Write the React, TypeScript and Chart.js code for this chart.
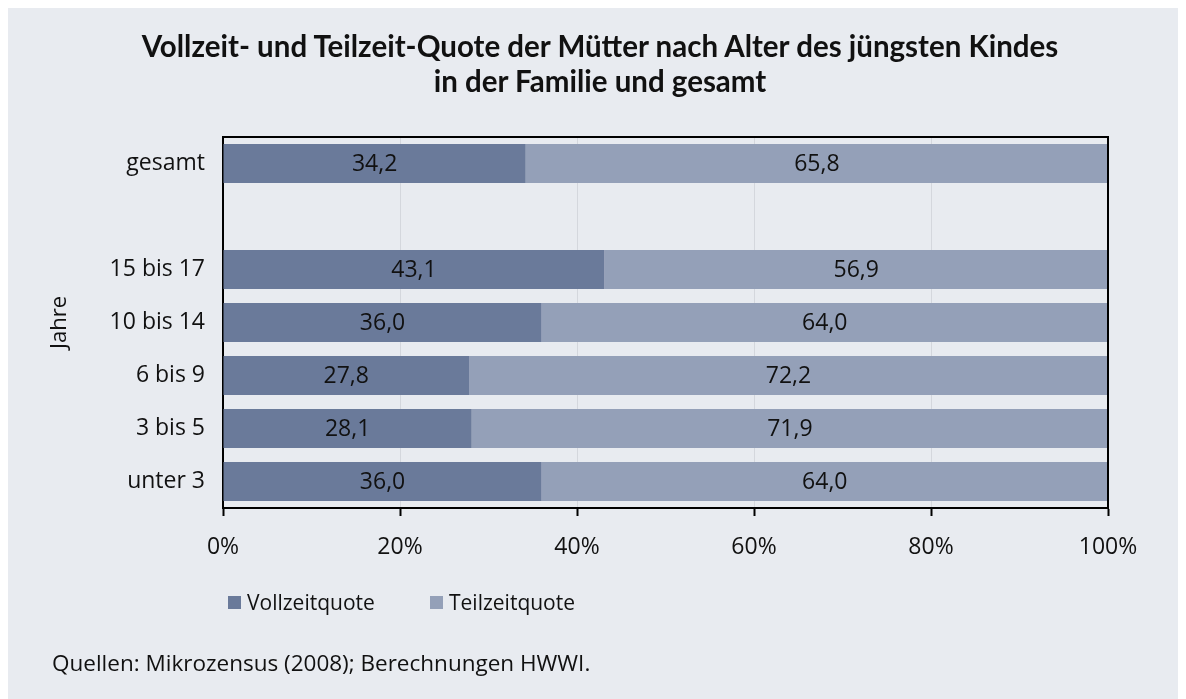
import React, { useEffect, useRef } from "react";
import { Chart, registerables } from "chart.js";

Chart.register(...registerables);

const categories = ["gesamt", "", "15 bis 17", "10 bis 14", "6 bis 9", "3 bis 5", "unter 3"];
const vollzeit = [34.2, null, 43.1, 36.0, 27.8, 28.1, 36.0];
const teilzeit = [65.8, null, 56.9, 64.0, 72.2, 71.9, 64.0];
const xTickValues = [0, 20, 40, 60, 80, 100];
const seriesNames = ["Vollzeitquote", "Teilzeitquote"];
const titleLines = [
  "Vollzeit- und Teilzeit-Quote der Mütter nach Alter des jüngsten Kindes",
  "in der Familie und gesamt",
];
const yAxisTitle = "Jahre";
const sourceText = "Quellen: Mikrozensus (2008); Berechnungen HWWI.";

const DARK = "#6a7a9a";
const LIGHT = "#94a0b8";
const BG = "#e8ebf0";
const LABEL_FONT = "'Open Sans', sans-serif";
const TITLE_FONT = "Lato, sans-serif";

const valueLabels = {
  id: "valueLabels",
  afterDatasetsDraw(chart: any) {
    const ctx = chart.ctx;
    ctx.save();
    ctx.font = `23px ${LABEL_FONT}`;
    ctx.fillStyle = "#111";
    ctx.textAlign = "center";
    ctx.textBaseline = "middle";
    chart.data.datasets.forEach((ds: any, di: number) => {
      const meta = chart.getDatasetMeta(di);
      meta.data.forEach((el: any, i: number) => {
        const v = ds.data[i];
        if (v === null || v === undefined) return;
        const x = (el.x + el.base) / 2;
        ctx.fillText(v.toFixed(1).replace(".", ","), x, el.y + 1);
      });
    });
    ctx.restore();
  },
};

const frame = {
  id: "frame",
  afterDraw(chart: any) {
    const { ctx, chartArea } = chart;
    ctx.save();
    ctx.strokeStyle = "#000";
    ctx.lineWidth = 2;
    ctx.beginPath();
    ctx.moveTo(chartArea.left, chartArea.top);
    ctx.lineTo(chartArea.right, chartArea.top);
    ctx.lineTo(chartArea.right, chartArea.bottom);
    ctx.stroke();
    ctx.restore();
  },
};

export default function App() {
  const canvasRef = useRef<HTMLCanvasElement | null>(null);

  useEffect(() => {
    if (!canvasRef.current) return;
    const chart = new Chart(canvasRef.current, {
      type: "bar",
      data: {
        labels: categories,
        datasets: [
          {
            label: seriesNames[0],
            data: vollzeit,
            backgroundColor: DARK,
            borderWidth: 0,
            categoryPercentage: 1,
            barPercentage: 0.74,
          },
          {
            label: seriesNames[1],
            data: teilzeit,
            backgroundColor: LIGHT,
            borderWidth: 0,
            categoryPercentage: 1,
            barPercentage: 0.74,
          },
        ],
      },
      options: {
        indexAxis: "y",
        animation: false,
        responsive: true,
        maintainAspectRatio: false,
        layout: { padding: { left: 20, right: 77, top: 129, bottom: 131 } },
        plugins: {
          legend: { display: false },
          tooltip: { enabled: false },
          title: { display: false },
        },
        scales: {
          x: {
            stacked: true,
            min: 0,
            max: 100,
            afterFit: (s: any) => {
              s.height = 60;
            },
            afterBuildTicks: (s: any) => {
              s.ticks = xTickValues.map((v) => ({ value: v }));
            },
            ticks: {
              color: "#111",
              font: { family: LABEL_FONT, size: 23 },
              padding: 18,
              callback: (v: any) => `${v}%`,
            },
            grid: {
              color: "#d4d7dd",
              lineWidth: 1,
              tickColor: "#000",
              tickWidth: 2,
              tickLength: 8,
            },
            border: { color: "#000", width: 2 },
          },
          y: {
            stacked: true,
            afterFit: (s: any) => {
              s.width = 196;
            },
            ticks: {
              color: "#111",
              font: { family: LABEL_FONT, size: 23 },
              padding: 18,
            },
            grid: { display: false, drawTicks: false },
            border: { color: "#000", width: 2 },
            title: {
              display: true,
              text: yAxisTitle,
              color: "#111",
              font: { family: LABEL_FONT, size: 22 },
              padding: { top: 20, bottom: 0 },
            },
          },
        },
      },
      plugins: [valueLabels, frame],
    });
    return () => chart.destroy();
  }, []);

  const legendItem = (color: string, text: string, left: number) => (
    <div
      style={{
        position: "absolute",
        left,
        top: 594,
        transform: "translateY(-50%)",
        display: "flex",
        alignItems: "center",
        whiteSpace: "nowrap",
      }}
    >
      <span style={{ display: "inline-block", width: 13, height: 13, background: color, marginRight: 6 }} />
      <span style={{ fontFamily: LABEL_FONT, fontSize: 21, color: "#111", lineHeight: "26px" }}>{text}</span>
    </div>
  );

  return (
    <div style={{ position: "relative", width: 1178, height: 691, marginLeft: -1, background: BG }}>
      <div style={{ position: "absolute", left: 0, top: 0, width: 1178, height: 691 }}>
        <canvas ref={canvasRef} />
      </div>
      <div
        style={{
          position: "absolute",
          left: 0,
          top: 20,
          width: 1186,
          textAlign: "center",
          fontFamily: TITLE_FONT,
          fontWeight: "bold",
          fontSize: 29.5,
          lineHeight: "35px",
          color: "#111",
          whiteSpace: "nowrap",
        }}
      >
        {titleLines.map((t, i) => (
          <div key={i}>{t}</div>
        ))}
      </div>
      {legendItem(DARK, seriesNames[0], 221)}
      {legendItem(LIGHT, seriesNames[1], 423)}
      <div
        style={{
          position: "absolute",
          left: 45,
          top: 655,
          transform: "translateY(-50%)",
          fontFamily: LABEL_FONT,
          fontSize: 22.5,
          color: "#111",
          whiteSpace: "nowrap",
          lineHeight: "26px",
        }}
      >
        {sourceText}
      </div>
    </div>
  );
}
